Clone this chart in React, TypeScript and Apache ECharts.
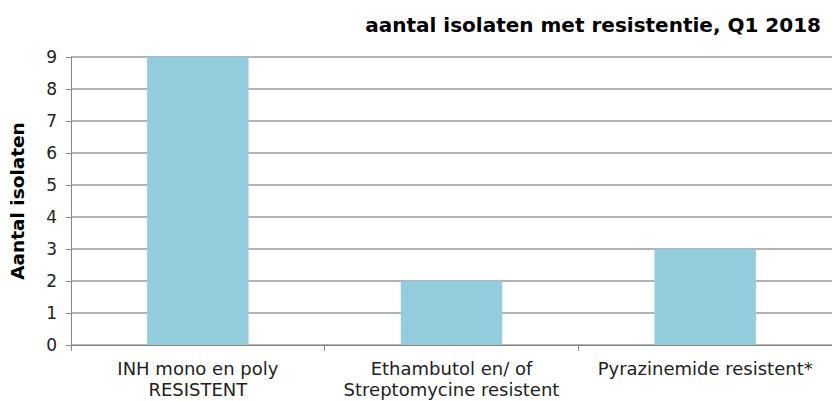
import React, { useEffect, useRef } from "react";
import * as echarts from "echarts";

const categories = ["INH mono en poly\nRESISTENT", "Ethambutol en/ of\nStreptomycine resistent", "Pyrazinemide resistent*"];
const values = [9, 2, 3];
const title = "aantal isolaten met resistentie, Q1 2018";
const yName = "Aantal isolaten";

export default function App() {
  const ref = useRef<HTMLDivElement>(null);
  useEffect(() => {
    const chart = echarts.init(ref.current!, null, { renderer: "svg" });
    const font = "Verdana, 'DejaVu Sans', sans-serif";
    chart.setOption({
      animation: false,
      title: {
        text: title,
        right: 11,
        top: 15,
        padding: 0,
        textStyle: { fontFamily: font, fontWeight: "bold", fontSize: 20, color: "#000" },
      },
      grid: { left: 65, right: -1, top: 57, bottom: 56, containLabel: false },
      xAxis: {
        type: "category",
        data: categories,
        axisLine: { lineStyle: { color: "#888", width: 1 } },
        axisTick: { show: true, length: 6, lineStyle: { color: "#888" } },
        axisLabel: { fontFamily: font, fontSize: 18, color: "#222", margin: 13, lineHeight: 21, interval: 0 },
      },
      yAxis: {
        type: "value",
        min: 0,
        max: 9,
        interval: 1,
        name: yName,
        nameLocation: "middle",
        nameGap: 44,
        nameTextStyle: { fontFamily: font, fontWeight: "bold", fontSize: 18.5, color: "#000" },
        axisLine: { show: true, lineStyle: { color: "#888" } },
        axisTick: { show: true, length: 5, lineStyle: { color: "#888" } },
        axisLabel: { fontFamily: font, fontSize: 17, color: "#222", margin: 14 },
        splitLine: { lineStyle: { color: "#9a9a9a", width: 1.5 } },
      },
      series: [
        {
          type: "bar",
          data: values,
          barWidth: "40%",
          itemStyle: { color: "#93cddd" },
        },
      ],
    });
    return () => chart.dispose();
  }, []);
  return <div ref={ref} style={{ width: 832, height: 401, position: "absolute", left: 0, top: 0 }} />;
}
